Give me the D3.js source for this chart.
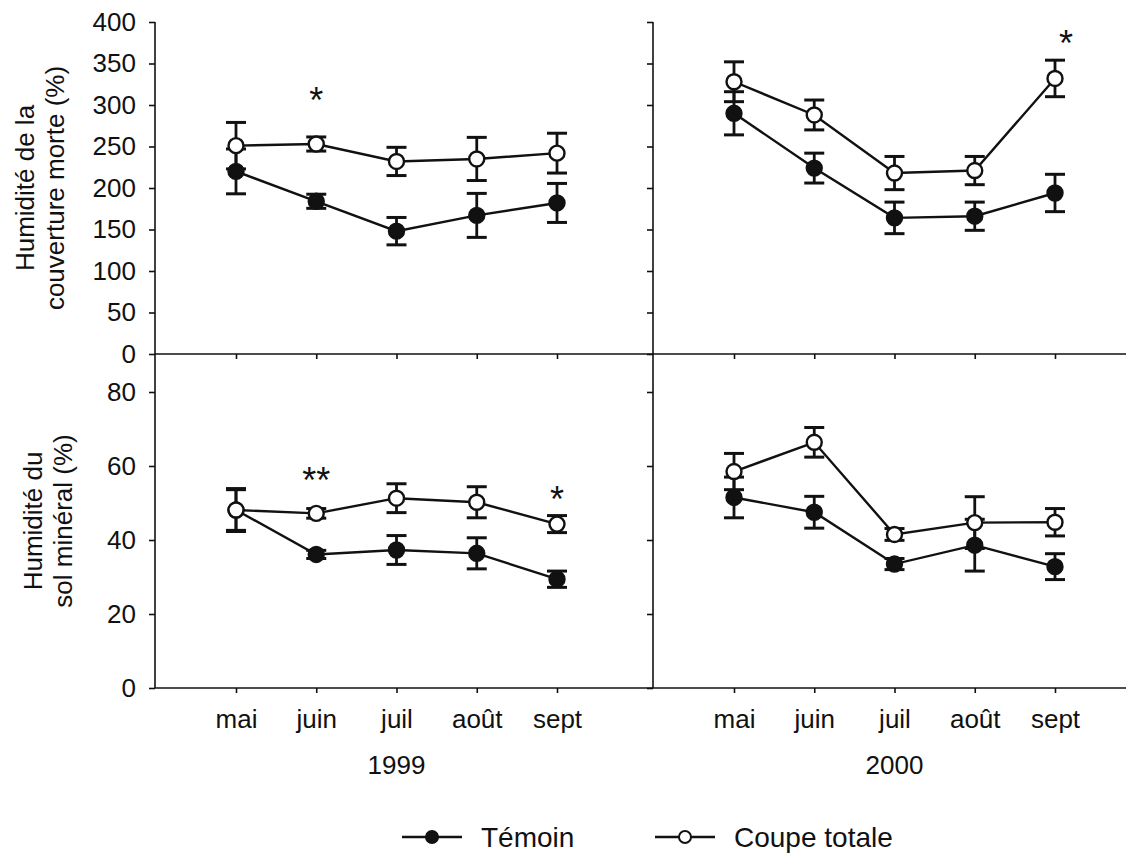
<!DOCTYPE html>
<html>
<head>
<meta charset="utf-8">
<script src="https://cdn.jsdelivr.net/npm/d3@7"></script>
<style>
  html, body { margin: 0; padding: 0; background: #fff; }
  svg { display: block; }
  text { font-family: "Liberation Sans", Arial, Helvetica, sans-serif; fill: #111; }
</style>
</head>
<body>
<svg id="chart" width="1126" height="857"></svg>
<script>
// ---------------- DATA ----------------
const months = ["mai", "juin", "juil", "août", "sept"];
const years = ["1999", "2000"];

// Humidité de la couverture morte (%)
const litterTemoin1999     = [220, 184, 148, 167, 182];
const litterTemoinErr1999  = [27, 8.5, 16.5, 26.5, 23.5];
const litterCoupe1999      = [251, 253, 232, 235, 242];
const litterCoupeErr1999   = [28, 8.5, 17, 26, 24];

const litterTemoin2000     = [290, 224, 164, 166, 194];
const litterTemoinErr2000  = [26, 18, 19, 17, 22.5];
const litterCoupe2000      = [328, 288, 218, 221, 332];
const litterCoupeErr2000   = [24, 18, 20, 17, 22];

// Humidité du sol minéral (%)
const soilTemoin1999       = [48.1, 36.1, 37.3, 36.4, 29.4];
const soilTemoinErr1999    = [5.5, 1.1, 3.9, 4.2, 2.2];
const soilCoupe1999        = [48.1, 47.2, 51.3, 50.2, 44.3];
const soilCoupeErr1999     = [5.8, 1.3, 3.9, 4.2, 2.3];

const soilTemoin2000       = [51.5, 47.5, 33.5, 38.6, 32.8];
const soilTemoinErr2000    = [5.5, 4.3, 1.5, 7, 3.5];
const soilCoupe2000        = [58.5, 66.4, 41.5, 44.7, 44.8];
const soilCoupeErr2000     = [4.9, 4, 1.6, 7, 3.7];

const litterTicks = [0, 50, 100, 150, 200, 250, 300, 350, 400];
const soilTicks   = [0, 20, 40, 60, 80];

// significance marks: [row, year, month, label, y-value position]
const sigMarks = [
  ["litter", "1999", "juin", "*",  314],
  ["litter", "2000", "sept", "*",  383],
  ["soil",   "1999", "juin", "**", 58],
  ["soil",   "1999", "sept", "*",  53]
];

const rowTitles = {
  litter: ["Humidité de la", "couverture morte (%)"],
  soil:   ["Humidité du", "sol minéral (%)"]
};
const seriesNames = ["Témoin", "Coupe totale"];

// ---------------- LAYOUT ----------------
const svg = d3.select("#chart");
const font = 26;
const panelX = { "1999": 155, "2000": 653 };
const rightEdge = 1126;
const topY = 22, midY = 354, botY = 688;

const xInner = d3.scalePoint().domain(months).range([81, 402]);
const x = (yr, m) => panelX[yr] + xInner(m);

const yLitter = d3.scaleLinear().domain([0, 400]).range([midY, topY]);
const ySoil   = d3.scaleLinear().domain([0, 80]).range([botY, 392]);

const data = {
  litter: {
    "1999": { t: litterTemoin1999, te: litterTemoinErr1999, c: litterCoupe1999, ce: litterCoupeErr1999 },
    "2000": { t: litterTemoin2000, te: litterTemoinErr2000, c: litterCoupe2000, ce: litterCoupeErr2000 }
  },
  soil: {
    "1999": { t: soilTemoin1999, te: soilTemoinErr1999, c: soilCoupe1999, ce: soilCoupeErr1999 },
    "2000": { t: soilTemoin2000, te: soilTemoinErr2000, c: soilCoupe2000, ce: soilCoupeErr2000 }
  }
};

// ---------------- AXES / FRAME ----------------
function styleAxis(g) {
  g.select(".domain").remove();
  g.selectAll(".tick line").attr("stroke", "#111").attr("stroke-width", 1.6);
  g.selectAll(".tick text").attr("font-size", font).attr("fill", "#111")
    .style("font-family", "'Liberation Sans', Arial, sans-serif");
}

years.forEach(yr => {
  const px = panelX[yr];
  const showLabels = yr === "1999";
  const gL = svg.append("g").attr("transform", `translate(${px},0)`)
    .call(d3.axisLeft(yLitter).tickValues(litterTicks).tickSize(6).tickPadding(13)
      .tickFormat(showLabels ? d3.format("d") : () => ""));
  styleAxis(gL);
  const gS = svg.append("g").attr("transform", `translate(${px},0)`)
    .call(d3.axisLeft(ySoil).tickValues(soilTicks).tickSize(6).tickPadding(13)
      .tickFormat(showLabels ? d3.format("d") : () => ""));
  styleAxis(gS);
  const xs = d3.scalePoint().domain(months).range([px + 81, px + 402]);
  const gM = svg.append("g").attr("transform", `translate(0,${midY})`)
    .call(d3.axisBottom(xs).tickSize(5).tickFormat(() => ""));
  styleAxis(gM);
  const gB = svg.append("g").attr("transform", `translate(0,${botY})`)
    .call(d3.axisBottom(xs).tickSize(5).tickPadding(17));
  styleAxis(gB);
  svg.append("text").attr("x", px + (xInner("mai") + xInner("sept")) / 2).attr("y", 774)
    .attr("text-anchor", "middle").attr("font-size", font).text(yr);
  svg.append("line").attr("x1", px).attr("x2", px).attr("y1", topY).attr("y2", botY)
    .attr("stroke", "#111").attr("stroke-width", 1.6);
});
[midY, botY].forEach(yy => {
  svg.append("line").attr("x1", panelX["1999"]).attr("x2", rightEdge).attr("y1", yy).attr("y2", yy)
    .attr("stroke", "#111").attr("stroke-width", 1.6);
});

// ---------------- ROW TITLES ----------------
const titlePos = {
  litter: { cy: (topY + midY) / 2, x1: 34, x2: 64 },
  soil:   { cy: (midY + botY) / 2, x1: 42, x2: 72 }
};
Object.keys(rowTitles).forEach(r => {
  const p = titlePos[r];
  rowTitles[r].forEach((line, i) => {
    const bx = i === 0 ? p.x1 : p.x2;
    svg.append("text")
      .attr("transform", `translate(${bx},${p.cy}) rotate(-90)`)
      .attr("text-anchor", "middle").attr("font-size", font).text(line);
  });
});

// ---------------- DATA MARKS ----------------
const capW = 10, r = 7.5;
["litter", "soil"].forEach(row => {
  const ys = row === "litter" ? yLitter : ySoil;
  years.forEach(yr => {
    const d = data[row][yr];
    const g = svg.append("g");
    const series = [
      { vals: d.t, errs: d.te, fill: "#111" },
      { vals: d.c, errs: d.ce, fill: "#fff" }
    ];
    const line = d3.line().x((v, i) => x(yr, months[i])).y(v => ys(v));
    series.forEach(s => {
      g.append("path").attr("d", line(s.vals)).attr("fill", "none")
        .attr("stroke", "#111").attr("stroke-width", 2.4);
    });
    series.forEach(s => {
      s.vals.forEach((v, i) => {
        const cx = x(yr, months[i]);
        const y1 = ys(v + s.errs[i]), y2 = ys(v - s.errs[i]);
        g.append("line").attr("x1", cx).attr("x2", cx).attr("y1", y1).attr("y2", y2)
          .attr("stroke", "#111").attr("stroke-width", 2.8);
        [y1, y2].forEach(yy => g.append("line")
          .attr("x1", cx - capW).attr("x2", cx + capW).attr("y1", yy).attr("y2", yy)
          .attr("stroke", "#111").attr("stroke-width", 3));
      });
    });
    series.forEach(s => {
      s.vals.forEach((v, i) => {
        g.append("circle").attr("cx", x(yr, months[i])).attr("cy", ys(v)).attr("r", r)
          .attr("fill", s.fill).attr("stroke", "#111").attr("stroke-width", 2.4);
      });
    });
  });
});

// significance asterisks
sigMarks.forEach(([row, yr, m, lab, val]) => {
  const ys = row === "litter" ? yLitter : ySoil;
  svg.append("text").attr("x", x(yr, m) + (yr === "2000" && row === "litter" ? 11 : 0))
    .attr("y", ys(val) + 20)
    .attr("text-anchor", "middle").attr("font-size", 36).text(lab);
});

// ---------------- LEGEND ----------------
const legendItems = [
  { name: seriesNames[0], fill: "#111", x0: 402 },
  { name: seriesNames[1], fill: "#fff", x0: 655 }
];
const legY = 837;
legendItems.forEach(it => {
  svg.append("line").attr("x1", it.x0).attr("x2", it.x0 + 60).attr("y1", legY).attr("y2", legY)
    .attr("stroke", "#111").attr("stroke-width", 2.4);
  svg.append("circle").attr("cx", it.x0 + 30).attr("cy", legY).attr("r", 6)
    .attr("fill", it.fill).attr("stroke", "#111").attr("stroke-width", 2);
  svg.append("text").attr("x", it.x0 + 79).attr("y", legY + 10).attr("font-size", 28).text(it.name);
});
</script>
</body>
</html>
